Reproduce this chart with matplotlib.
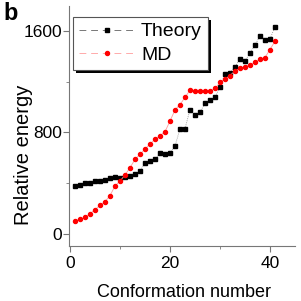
import matplotlib
matplotlib.use("Agg")
import matplotlib.pyplot as plt
from matplotlib.lines import Line2D
from matplotlib.ticker import MultipleLocator
import matplotlib.patheffects as pe

plt.rcParams['font.family'] = ['Liberation Sans', 'DejaVu Sans']

conf = list(range(1, 42))
theory = [380, 388, 404, 404, 415, 420, 428, 438, 449, 441, 449, 454, 470, 496,
          561, 575, 588, 640, 630, 640, 693, 829, 829, 980, 938, 961, 1029, 1055,
          1076, 1160, 1260, 1270, 1318, 1381, 1362, 1428, 1488, 1564, 1530, 1538, 1633]
md = [102, 115, 131, 160, 191, 226, 255, 302, 378, 417, 465, 522, 588, 627, 669,
      709, 745, 774, 806, 890, 978, 1020, 1076, 1134, 1126, 1126, 1126, 1126, 1147,
      1194, 1220, 1249, 1286, 1305, 1318, 1333, 1352, 1378, 1391, 1454, 1520]

fig = plt.figure(figsize=(3.01, 3.01), dpi=100)
ax = fig.add_axes([69/301, 1 - 246/301, (295-69)/301, (246-6)/301])

ax.plot(conf, theory, color='#888888', lw=0.6, ls=(0, (1, 1.5)), marker='s',
        ms=2.5, mfc='black', mec='black')
ax.plot(conf, md, color='#ff9a9a', lw=0.6, marker='o', ms=2.9,
        mfc='red', mec='red')

ax.set_xlim(-0.2, 45)
ax.set_ylim(-95, 1797)
ax.xaxis.set_major_locator(MultipleLocator(20))
ax.xaxis.set_minor_locator(MultipleLocator(10))
ax.yaxis.set_major_locator(MultipleLocator(800))
ax.yaxis.set_minor_locator(MultipleLocator(400))
for s in ['top', 'right']:
    ax.spines[s].set_visible(False)
for s in ['left', 'bottom']:
    ax.spines[s].set_color('#777777')
    ax.spines[s].set_linewidth(0.8)
ax.tick_params(which='both', direction='out', color='#777777', labelsize=12.5)
ax.tick_params(axis='x', pad=3)
ax.tick_params(axis='y', pad=1)
ax.tick_params(which='major', length=4)
ax.tick_params(which='minor', length=2.5)

ax.set_xlabel('Conformation number', fontsize=13)
ax.xaxis.set_label_coords(0.507, -0.16)
ax.set_ylabel('Relative energy', fontsize=14.5, va='center')
ax.yaxis.set_label_coords(-0.2, 0.38)

handles = [
    Line2D([], [], color='#777777', lw=0.7, ls=(0, (7, 5)), marker='s', ms=2.5,
           mfc='black', mec='black'),
    Line2D([], [], color='#ffaaaa', lw=0.7, ls=(0, (7, 5)), marker='o', ms=2.9,
           mfc='red', mec='red'),
]
leg = ax.legend(handles, ['Theory', 'MD'], loc='upper left',
                bbox_to_anchor=(4/226, 1 - 11/240), fontsize=14, numpoints=1,
                frameon=True, fancybox=False, shadow=False, framealpha=1.0,
                facecolor='white',
                edgecolor='#555555', handlelength=2.9, handletextpad=0.3,
                borderpad=0.3, labelspacing=0.3, borderaxespad=0)
frame = leg.get_frame()
frame.set_linewidth(0.8)
frame.set_path_effects([pe.SimplePatchShadow(offset=(2.5, -2.5), shadow_rgbFace='black',
                                             alpha=1.0), pe.Normal()])

fig.text(3/301, 1 - 2/301, 'b', fontsize=17, fontweight='bold', va='top', ha='left')

fig.savefig('out.png', dpi=100)
